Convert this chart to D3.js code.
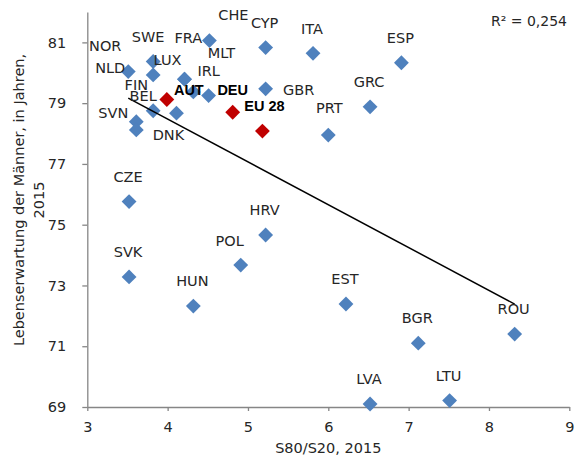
<!DOCTYPE html>
<html>
<head>
<meta charset="utf-8">
<script src="https://cdn.jsdelivr.net/npm/d3@7"></script>
<style>
  html, body { margin: 0; padding: 0; background: #fff; }
  svg { display: block; }
</style>
</head>
<body>
<div id="chart"></div>
<script>
// ---------------- data ----------------
const countries = ["NOR","NLD","SWE","LUX","MLT","FRA","IRL","BEL","DNK","FIN","SVN","CHE",
  "AUT","DEU","EU 28","CYP","ITA","ESP","GBR","GRC","PRT","CZE","SVK","HUN","POL","HRV",
  "EST","BGR","ROU","LVA","LTU"];
const s80s20 = [3.51,3.82,3.82,4.21,4.21,4.32,4.51,3.82,4.11,3.61,3.61,4.52,
  3.99,4.81,5.18,5.22,5.81,6.91,5.22,6.52,6.00,3.52,3.52,4.32,4.91,5.22,
  6.22,7.12,8.32,6.52,7.51];
const lifeExpMen = [80.04,79.93,80.37,79.79,79.79,79.37,79.25,78.75,78.67,78.39,78.12,81.06,
  79.12,78.70,78.08,80.83,80.64,80.33,79.47,78.88,77.95,75.76,73.28,72.32,73.67,74.66,
  72.39,71.10,71.40,69.10,69.21];
const highlighted = ["AUT","DEU","EU 28"];
const aggregate = ["EU 28"];
const xTicks = [3,4,5,6,7,8,9];
const yTicks = [69,71,73,75,77,79,81];
const xDomain = [3,9];
const yDomain = [69,82];
const xTitle = "S80/S20, 2015";
const yTitleLines = ["Lebenserwartung der Männer, in Jahren,", "2015"];
const rSquaredText = "R² = 0,254";

// ---------------- layout (label placement, px) ----------------
const labelShiftDefault = {dx: -1, dy: -25};
const labelShift = {
  "NOR": {dx: -23, dy: -26}, "NLD": {dx: -43, dy: -7}, "SWE": {dx: -5, dy: -25},
  "LUX": {dx: -17, dy: -19}, "MLT": {dx: 37, dy: -26}, "FRA": {dx: -5, dy: -54},
  "IRL": {dx: 0, dy: -25}, "BEL": {dx: -10, dy: -15}, "DNK": {dx: -8, dy: 22},
  "FIN": {dx: 0, dy: -37}, "SVN": {dx: -23, dy: -17}, "CHE": {dx: 24, dy: -26},
  "AUT": {dx: 22, dy: -10}, "DEU": {dx: 0, dy: -22}, "EU 28": {dx: 2, dy: -25},
  "GBR": {dx: 33, dy: 1}, "POL": {dx: -11, dy: -24}, "PRT": {dx: 1, dy: -27}
};

const W = 576, H = 456;
const plot = {left: 87.3, right: 569.3, top: 12, bottom: 407};
const blue = "#4F81BD", red = "#C00000", axisGrey = "#868686", textCol = "#262626";
const labelFont = "'DejaVu Sans', sans-serif";

const svg = d3.select("#chart").append("svg").attr("width", W).attr("height", H);

const x = d3.scaleLinear().domain(xDomain).range([plot.left, plot.right]);
const y = d3.scaleLinear().domain(yDomain).range([plot.bottom, plot.top]);

const data = countries.map((c, i) => ({c, x: s80s20[i], y: lifeExpMen[i], hi: highlighted.includes(c)}));

// axes
const yAxis = d3.axisLeft(y).tickValues(yTicks).tickSize(5).tickSizeOuter(0).tickPadding(16).tickFormat(d3.format("d"));
const xAxis = d3.axisBottom(x).tickValues(xTicks).tickSize(4).tickSizeOuter(0).tickPadding(11).tickFormat(d3.format("d"));

const gy = svg.append("g").attr("transform", `translate(${plot.left},0)`).call(yAxis);
const gx = svg.append("g").attr("transform", `translate(0,${plot.bottom})`).call(xAxis);
[gx, gy].forEach(g => {
  g.select(".domain").attr("stroke", axisGrey).attr("stroke-width", 1.3);
  g.selectAll(".tick line").attr("stroke", axisGrey).attr("stroke-width", 1.3);
  g.selectAll(".tick text").attr("fill", textCol).attr("font-family", labelFont).attr("font-size", 14.5);
});

// axis titles
svg.append("text").attr("x", (plot.left + plot.right) / 2).attr("y", 453)
  .attr("text-anchor", "middle").attr("font-family", labelFont).attr("font-size", 14.5)
  .attr("fill", textCol).text(xTitle);

const yt = svg.append("text").attr("transform", "translate(0,200) rotate(-90)")
  .attr("text-anchor", "middle").attr("font-family", labelFont).attr("font-size", 14.5)
  .attr("fill", textCol);
yt.append("tspan").attr("x", 0).attr("y", 24).text(yTitleLines[0]);
yt.append("tspan").attr("x", 0).attr("y", 43.5).text(yTitleLines[1]);

// markers
const diamond = d3.symbol().type(d3.symbolSquare).size(110);
svg.append("g").selectAll("path").data(data).join("path")
  .attr("d", diamond)
  .attr("transform", d => `translate(${x(d.x)},${y(d.y)}) rotate(45)`)
  .attr("fill", d => d.hi ? red : blue);

// linear trend (least squares over countries, aggregate excluded)
const fitPts = data.filter(d => !aggregate.includes(d.c));
const mx = d3.mean(fitPts, d => d.x), my = d3.mean(fitPts, d => d.y);
const sxy = d3.sum(fitPts, d => (d.x - mx) * (d.y - my));
const sxx = d3.sum(fitPts, d => (d.x - mx) ** 2);
const slope = sxy / sxx, intercept = my - slope * mx;
const [x0, x1] = d3.extent(fitPts, d => d.x);
svg.append("path")
  .datum([x0, x1])
  .attr("d", d3.line().x(v => x(v)).y(v => y(intercept + slope * v)))
  .attr("stroke", "#000").attr("stroke-width", 1.5).attr("fill", "none");

// labels
svg.append("g").selectAll("text").data(data).join("text")
  .attr("x", d => x(d.x) + (labelShift[d.c] || labelShiftDefault).dx)
  .attr("y", d => y(d.y) + (labelShift[d.c] || labelShiftDefault).dy)
  .attr("dy", "0.36em")
  .attr("text-anchor", "middle")
  .attr("font-family", d => d.hi ? "'Liberation Sans', Arial, sans-serif" : labelFont)
  .attr("font-weight", d => d.hi ? "bold" : "normal")
  .attr("font-size", d => d.hi ? 14.5 : 14.5)
  .attr("fill", d => d.hi ? "#000" : textCol)
  .text(d => d.c);

// R²
svg.append("text").attr("x", 567).attr("y", 21).attr("dy", "0.36em")
  .attr("text-anchor", "end").attr("font-family", labelFont).attr("font-size", 14)
  .attr("fill", textCol).text(rSquaredText);
</script>
</body>
</html>
